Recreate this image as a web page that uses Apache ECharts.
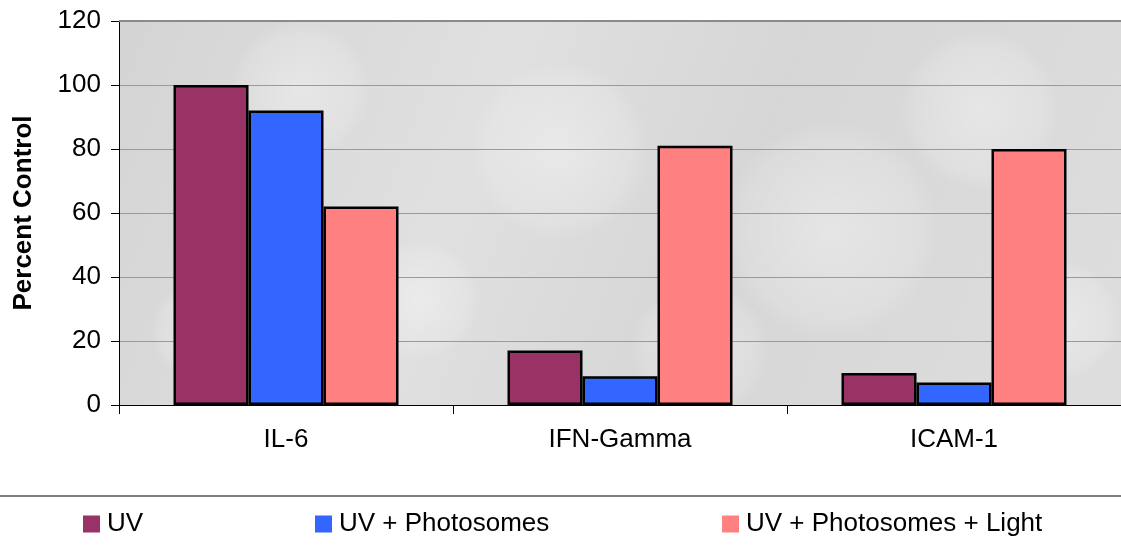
<!DOCTYPE html>
<html><head><meta charset="utf-8">
<script src="https://cdn.jsdelivr.net/npm/echarts@6/dist/echarts.min.js"></script>
<style>html,body{margin:0;padding:0;background:#fff}#c{width:1121px;height:550px}</style>
</head><body><div id="c"></div>
<script>
var categories = ['IL-6', 'IFN-Gamma', 'ICAM-1'];
var seriesNames = ['UV', 'UV + Photosomes', 'UV + Photosomes + Light'];
var uv = [100, 17, 10];
var uvPhotosomes = [92, 9, 7];
var uvPhotosomesLight = [62, 81, 80];
var yTicks = [0, 20, 40, 60, 80, 100, 120];
var colors = ['#993366', '#3366FF', '#FF8080'];
var font = '"Liberation Sans", Arial, sans-serif';

var chart = echarts.init(document.getElementById('c'), null, {renderer: 'canvas'});
var mk = function (name, data, color) {
  return {
    name: name, type: 'bar', data: data, barGap: '0%', barWidth: 75,
    itemStyle: {color: color, borderColor: '#000', borderWidth: 2.5},
    emphasis: {disabled: true}, z: 3
  };
};
// soft bokeh blobs for the photo-like plot background (decoration only)
var blobs = [[300, 90, 70], [420, 300, 60], [560, 150, 90], [830, 230, 110], [980, 110, 80], [200, 330, 50], [700, 350, 70], [1060, 320, 60]];
var blobGraphics = blobs.map(function (b) {
  return {type: 'circle', shape: {cx: b[0], cy: b[1], r: b[2]}, silent: true, z: 0, zlevel: 0,
    style: {fill: {type: 'radial', x: 0.5, y: 0.5, r: 0.5, colorStops: [
      {offset: 0, color: 'rgba(255,255,255,0.35)'}, {offset: 0.8, color: 'rgba(255,255,255,0.15)'},
      {offset: 1, color: 'rgba(255,255,255,0)'}]}}};
});
chart.setOption({
  animation: false,
  textStyle: {fontFamily: font},
  grid: {left: 119, top: 21, width: 1011, height: 384,
    show: true, borderWidth: 0,
    backgroundColor: {type: 'linear', x: 0, y: 0, x2: 1, y2: 1, colorStops: [
      {offset: 0, color: '#d4d4d4'}, {offset: 0.35, color: '#e0e0e0'},
      {offset: 0.6, color: '#d6d6d6'}, {offset: 1, color: '#dedede'}]}},
  xAxis: {
    type: 'category', data: categories,
    axisLine: {lineStyle: {color: '#000', width: 1}},
    axisTick: {show: true, length: 9, lineStyle: {color: '#000'}},
    axisLabel: {color: '#000', fontSize: 26, margin: 22, fontFamily: font},
    splitLine: {show: false}
  },
  yAxis: {
    type: 'value', min: yTicks[0], max: yTicks[yTicks.length - 1], interval: 20,
    name: 'Percent Control', nameLocation: 'middle', nameGap: 82,
    nameTextStyle: {color: '#000', fontSize: 26, fontWeight: 'bold', fontFamily: font},
    axisLine: {show: true, lineStyle: {color: '#000', width: 1}},
    axisTick: {show: true, length: 8, lineStyle: {color: '#000'}},
    axisLabel: {color: '#000', fontSize: 26, margin: 18, fontFamily: font},
    splitLine: {show: true, lineStyle: {color: '#9a9a9a', width: 1}}
  },
  legend: [
    {data: [seriesNames[0]], left: 83, top: 511},
    {data: [seriesNames[1]], left: 315, top: 511},
    {data: [seriesNames[2]], left: 722, top: 511}
  ].map(function (l) {
    l.icon = 'rect'; l.itemWidth = 17; l.itemHeight = 17; l.itemGap = 8;
    l.itemStyle = {borderWidth: 0};
    l.textStyle = {color: '#000', fontSize: 26, fontFamily: font, padding: [0, 0, 0, 2]};
    l.selectedMode = false; l.padding = 0;
    return l;
  }),
  graphic: [
    {type: 'group', silent: true, z: 0, clipPath: {type: 'rect', shape: {x: 119, y: 21, width: 1002, height: 384}},
      children: blobGraphics},
    {type: 'line', shape: {x1: 0, y1: 496, x2: 1121, y2: 496}, style: {stroke: '#808080', lineWidth: 2}},
    {type: 'line', shape: {x1: 119, y1: 21, x2: 1121, y2: 21}, style: {stroke: '#8a8a8a', lineWidth: 2}, z: 10}
  ],
  series: [
    mk(seriesNames[0], uv, colors[0]),
    mk(seriesNames[1], uvPhotosomes, colors[1]),
    mk(seriesNames[2], uvPhotosomesLight, colors[2])
  ]
});
</script></body></html>
